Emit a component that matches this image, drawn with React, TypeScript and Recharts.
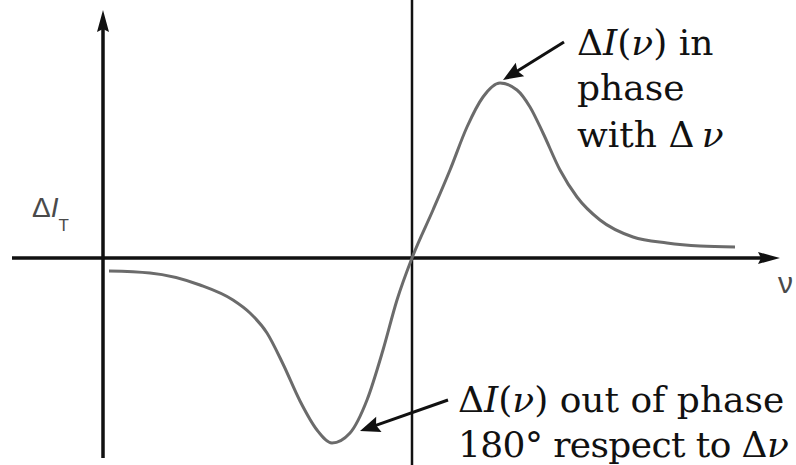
import { ComposedChart, Line, XAxis, YAxis, ReferenceLine } from 'recharts';

// detuning from line centre (arb. units) and transmitted intensity change ΔI_T
const detuning = [
  -3.03, -2.62, -2.12, -1.79, -1.62, -1.45, -1.29, -1.12, -0.95, -0.8,
  -0.62, -0.45, -0.29, -0.15, 0, 0.21, 0.38, 0.55, 0.71, 0.88,
  1.05, 1.18, 1.31, 1.48, 1.65, 1.88, 2.21, 2.55, 2.88, 3.23,
];
const signal = [
  -0.13, -0.15, -0.27, -0.42, -0.55, -0.75, -1.06, -1.43, -1.72, -1.85,
  -1.75, -1.42, -0.92, -0.42, 0, 0.48, 0.88, 1.31, 1.61, 1.75,
  1.68, 1.51, 1.25, 0.88, 0.61, 0.38, 0.21, 0.15, 0.12, 0.11,
];

// axis extents and annotation arrows, in data units
const xAxisSpan = [-4.0, 3.68];
const yAxisAt = -3.09;
const yAxisSpan = [-2.0, 2.48];
const peakArrow = [{ x: 1.52, y: 2.16 }, { x: 0.91, y: 1.78 }];
const dipArrow = [{ x: 0.36, y: -1.42 }, { x: -0.52, y: -1.73 }];

const data = detuning.map((nu, i) => ({ nu, dI: signal[i] }));

const W = 796;
const H = 465;
const serif = 'DejaVu Serif';
const sans = 'Liberation Sans';

function arrowShape(head: number, half: number, width: number) {
  return (p: any) => {
    const { x1, y1, x2, y2 } = p;
    const dx = x2 - x1;
    const dy = y2 - y1;
    const len = Math.hypot(dx, dy) || 1;
    const ux = dx / len;
    const uy = dy / len;
    const bx = x2 - ux * head;
    const by = y2 - uy * head;
    const pts = [
      `${x2},${y2}`,
      `${bx - uy * half},${by + ux * half}`,
      `${bx + ux * 3},${by + uy * 3}`,
      `${bx + uy * half},${by - ux * half}`,
    ].join(' ');
    return (
      <g>
        <line x1={x1} y1={y1} x2={bx + ux * 4} y2={by + uy * 4} stroke="#111" strokeWidth={width} />
        <polygon points={pts} fill="#111" />
      </g>
    );
  };
}

export default function App() {
  return (
    <div style={{ position: 'absolute', left: 0, top: 0, width: W, height: H, background: '#fff' }}>
      <ComposedChart width={W} height={H} data={data} margin={{ top: 0, right: 0, bottom: 0, left: 0 }}>
        <XAxis type="number" dataKey="nu" domain={[-4.12, 3.84]} hide allowDataOverflow />
        <YAxis type="number" domain={[-2.07, 2.58]} hide allowDataOverflow />

        {/* line-centre marker */}
        <ReferenceLine x={0} stroke="#111" strokeWidth={2.5} />

        {/* axes with arrow heads */}
        <ReferenceLine
          segment={[{ x: xAxisSpan[0], y: 0 }, { x: xAxisSpan[1], y: 0 }]}
          shape={arrowShape(22, 6, 3.5)}
        />
        <ReferenceLine
          segment={[{ x: yAxisAt, y: yAxisSpan[0] }, { x: yAxisAt, y: yAxisSpan[1] }]}
          shape={arrowShape(22, 6, 3.5)}
        />

        <Line
          type="monotone"
          dataKey="dI"
          stroke="#6b6b6b"
          strokeWidth={3}
          strokeLinecap="butt"
          dot={false}
          activeDot={false}
          isAnimationActive={false}
        />

        <ReferenceLine segment={peakArrow} shape={arrowShape(20, 8, 3)} />
        <ReferenceLine segment={dipArrow} shape={arrowShape(20, 8, 3)} />

        {/* axis titles */}
        <text x={32} y={217} fontFamily={sans} fontSize={28} fill="#4a4a4a">
          Δ<tspan fontStyle="italic">I</tspan>
          <tspan fontSize={17} dy={14}>T</tspan>
        </text>
        <text x={778} y={293} fontFamily={sans} fontSize={30} fill="#4a4a4a">ν</text>

        {/* annotations */}
        <g fontFamily={serif} fontSize={36} fill="#111">
          <text x={577} y={55}>
            Δ<tspan fontStyle="italic">I</tspan>(<tspan fontStyle="italic">ν</tspan>) in
          </text>
          <text x={577} y={100}>phase</text>
          <text x={577} y={147}>
            with Δ<tspan fontStyle="italic">{'\u2009'}ν</tspan>
          </text>
          <text x={458} y={412}>
            Δ<tspan fontStyle="italic">I</tspan>(<tspan fontStyle="italic">ν</tspan>) out of phase
          </text>
          <text x={458} y={457} letterSpacing={-0.6}>
            180° respect to Δ<tspan fontStyle="italic">ν</tspan>
          </text>
        </g>
      </ComposedChart>
    </div>
  );
}
